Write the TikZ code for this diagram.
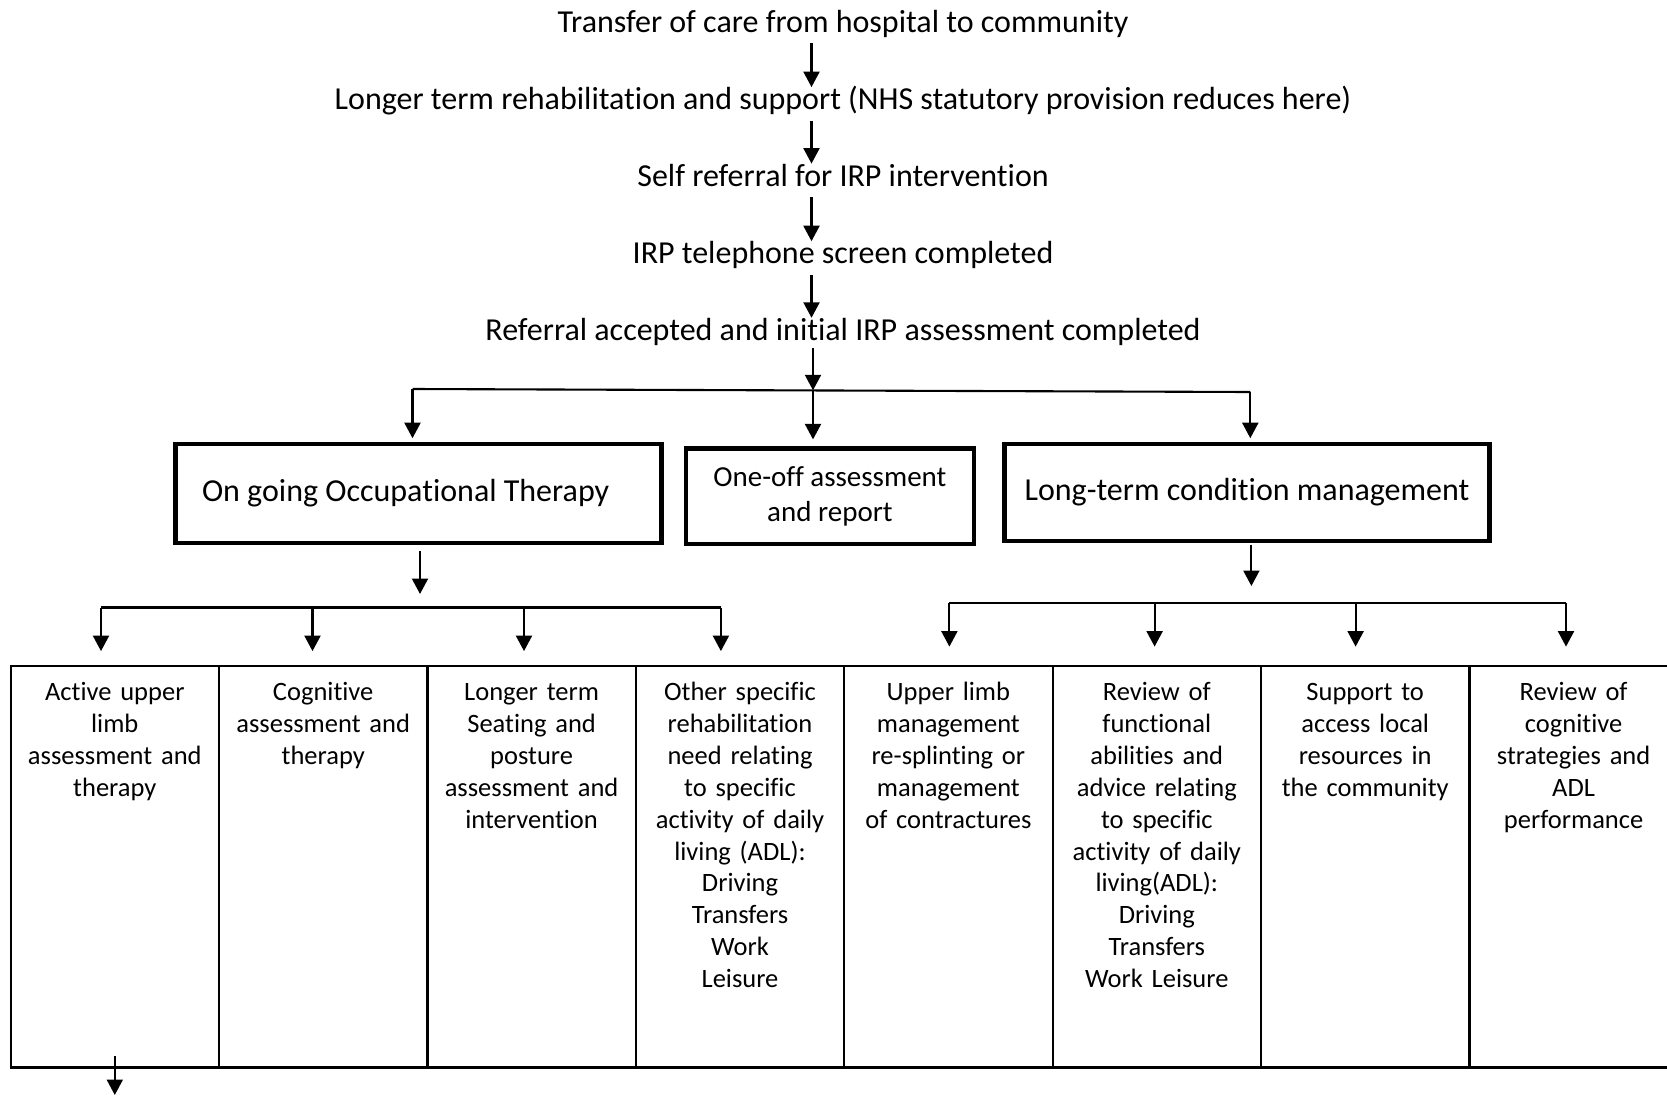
\documentclass[tikz,border=0pt]{standalone}
\usepackage{fontspec}
\setmainfont{Carlito}[Ligatures={NoCommon}]
\usetikzlibrary{arrows.meta,calc}
\begin{document}
\begin{tikzpicture}[x=1pt,y=-1pt,
  arr/.style={line width=2.1pt,-{Triangle[width=16pt,length=15.5pt]}},
  ln/.style={line width=2.1pt},
  ttl/.style={font=\fontsize{32}{38}\selectfont, inner sep=0pt, outer sep=0pt, text height=22pt, text depth=8pt, anchor=base},
  bigbox/.style={draw, line width=4.5pt, inner sep=0pt, outer sep=0pt},
  cell/.style={draw, line width=2.2pt, minimum width=208.4pt, minimum height=401.9pt, inner sep=0pt, outer sep=0pt},
  celltext/.style={font=\fontsize{26.5}{31.9}\selectfont, align=center, text width=200pt, inner sep=0pt, anchor=base}
]
\useasboundingbox (0,0) rectangle (1667,1100);
\clip (0,0) rectangle (1667,1100);

% title chain
\node[ttl] (t1) at (843,32) {Transfer of care from hospital to community};
\node[ttl] (t2) at (843,109.6) {Longer term rehabilitation and support (NHS statutory provision reduces here)};
\node[ttl] (t3) at (843,186.1) {Self referral for IRP intervention};
\node[ttl] (t4) at (843,263.7) {IRP telephone screen completed};
\node[ttl] (t5) at (843,340.3) {Referral accepted and initial IRP assessment completed};

\coordinate (ax) at (811.5,0);
\draw[arr, shorten <=3pt, shorten >=0.5pt] (t1.south -| ax) -- (t2.north -| ax);
\draw[arr, shorten <=3pt, shorten >=0.5pt] (t2.south -| ax) -- (t3.north -| ax);
\draw[arr, shorten <=3pt, shorten >=0.5pt] (t3.south -| ax) -- (t4.north -| ax);
\draw[arr, shorten <=3pt, shorten >=0.5pt] (t4.south -| ax) -- (t5.north -| ax);

% three boxes
\node[bigbox, minimum width=486pt, minimum height=98.8pt, text width=486pt, align=flush left,
      font=\fontsize{32}{38}\selectfont] (b1) at (418.4,493.6) {\hspace*{26.6pt}On going Occupational Therapy};
\node[bigbox, minimum width=288pt, minimum height=95.6pt, align=center,
      font=\fontsize{29}{35}\selectfont] (b2) at (829.9,496.2) {One-off assessment\\and report};
\node[bigbox, minimum width=484.8pt, minimum height=96.8pt, align=center,
      font=\fontsize{32}{38}\selectfont] (b3) at (1247,492.6) {Long-term condition management};

% first split
\coordinate (sL) at (412.5,389);
\coordinate (sM) at (813,390.3);
\coordinate (sR) at (1250.3,392);
\draw[arr] (t5.south -| sM) -- (sM);
\draw[ln] (sL) -- (sR);
\draw[arr, shorten >=6pt] (sL) -- (b1.north -| sL);
\draw[arr, shorten >=9pt] (sM) -- (b2.north -| sM);
\draw[arr, shorten >=6pt] (sR) -- (b3.north -| sR);

% arrows below boxes
\coordinate (o1) at (420,594);
\coordinate (o3) at (1251.4,586);
\draw[arr, shorten <=8pt] (b1.south -| o1) -- (o1);
\draw[arr, shorten <=3.5pt] (b3.south -| o3) -- (o3);

% table cells
\node[cell] (c1) at (114.8,866.55) {};
\node[cell] (c2) at (323.2,866.55) {};
\node[cell] (c3) at (531.6,866.55) {};
\node[cell] (c4) at (740.0,866.55) {};
\node[cell] (c5) at (948.4,866.55) {};
\node[cell] (c6) at (1156.8,866.55) {};
\node[cell] (c7) at (1365.2,866.55) {};
\node[cell] (c8) at (1573.6,866.55) {};
\draw[line width=3.5pt] (c1.south west) -- (c8.south east);

% left split
\coordinate (L1) at (101,607.5);
\coordinate (L2) at (312.5,607.5);
\coordinate (L3) at (524,607.5);
\coordinate (L4) at (720.9,607.5);
\draw[ln] (L1) -- (L4);
\draw[arr, shorten >=14.5pt] (L1) -- (L1 |- c1.north);
\draw[arr, shorten >=14.5pt] (L2) -- (L2 |- c2.north);
\draw[arr, shorten >=14.5pt] (L3) -- (L3 |- c3.north);
\draw[arr, shorten >=14.5pt] (L4) -- (L4 |- c4.north);

% right split
\coordinate (R1) at (949.4,602.8);
\coordinate (R2) at (1154.6,602.8);
\coordinate (R3) at (1355.6,602.8);
\coordinate (R4) at (1566,602.8);
\draw[ln] (R1) -- (R4);
\draw[arr, shorten >=19pt] (R1) -- (R1 |- c5.north);
\draw[arr, shorten >=19pt] (R2) -- (R2 |- c6.north);
\draw[arr, shorten >=19pt] (R3) -- (R3 |- c7.north);
\draw[arr, shorten >=19pt] (R4) -- (R4 |- c8.north);

% cell texts
\node[celltext] (x1) at ($(c1.north)+(0,34.9)$) {Active upper\\limb\\assessment and\\therapy};
\node[celltext] (x2) at ($(c2.north)+(0,34.9)$) {Cognitive\\assessment and\\therapy};
\node[celltext] (x3) at ($(c3.north)+(0,34.9)$) {Longer term\\Seating and\\posture\\assessment and\\intervention};
\node[celltext] (x4) at ($(c4.north)+(0,34.9)$) {Other specific\\rehabilitation\\need relating\\to specific\\activity of daily\\living (ADL):\\Driving\\Transfers\\Work\\Leisure};
\node[celltext] (x5) at ($(c5.north)+(0,34.9)$) {Upper limb\\management\\re-splinting or\\management\\of contractures};
\node[celltext] (x6) at ($(c6.north)+(0,34.9)$) {Review of\\functional\\abilities and\\advice relating\\to specific\\activity of daily\\living(ADL):\\Driving\\Transfers\\Work Leisure};
\node[celltext] (x7) at ($(c7.north)+(0,34.9)$) {Support to\\access local\\resources in\\the community};
\node[celltext] (x8) at ($(c8.north)+(0,34.9)$) {Review of\\cognitive\\strategies and\\ADL\\performance};

% arrow leaving the first cell
\coordinate (fin) at (114.8,1095);
\draw[arr] ($(c1.south)+(0,-11.5)$) -- (fin);
\end{tikzpicture}
\end{document}
